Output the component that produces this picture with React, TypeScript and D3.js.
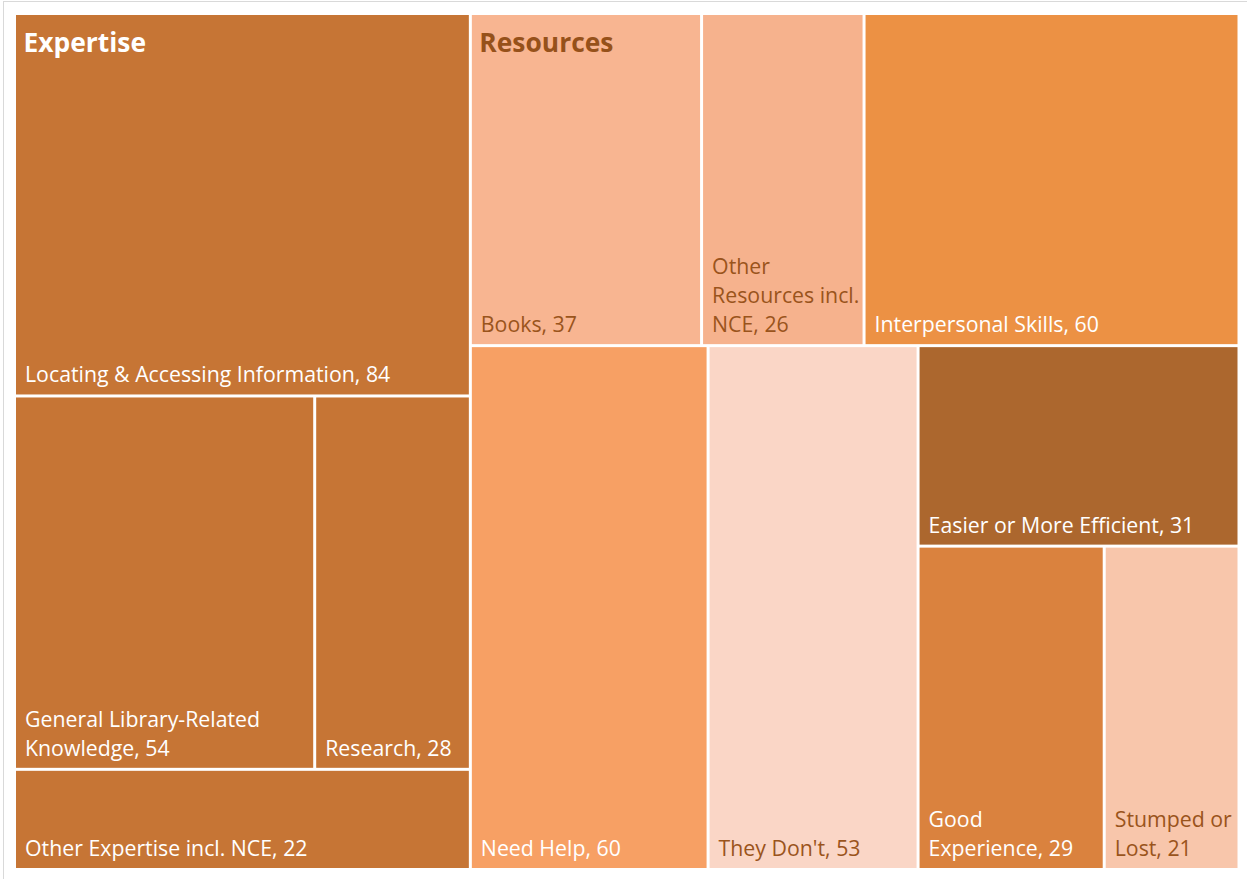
import React, { useMemo } from "react";
import * as d3 from "d3";

// ---- data ----
const expertiseItems = [
  "Locating & Accessing Information",
  "General Library-Related Knowledge",
  "Research",
  "Other Expertise incl. NCE",
];
const expertiseValues = [84, 54, 28, 22];

const resourcesItems = ["Books", "Other Resources incl. NCE"];
const resourcesValues = [37, 26];

const singleItems = [
  "Interpersonal Skills",
  "Need Help",
  "They Don't",
  "Easier or More Efficient",
  "Good Experience",
  "Stumped or Lost",
];
const singleValues = [60, 60, 53, 31, 29, 21];

const leafColors: Record<string, string> = {
  "Locating & Accessing Information": "#C67535",
  "General Library-Related Knowledge": "#C67535",
  Research: "#C67535",
  "Other Expertise incl. NCE": "#C67535",
  Books: "#F8B591",
  "Other Resources incl. NCE": "#F6B28D",
  "Interpersonal Skills": "#EC9144",
  "Need Help": "#F7A064",
  "They Don't": "#FAD6C6",
  "Easier or More Efficient": "#AC672E",
  "Good Experience": "#DA823E",
  "Stumped or Lost": "#F8C6AB",
};
const darkText = "#9A541C";
const lightTextLeaves = new Set([
  "Books",
  "Other Resources incl. NCE",
  "They Don't",
  "Stumped or Lost",
]);

// strip plan (number of items per strip) used by the tiling
const rowPlan: Record<string, number[]> = {
  root: [1, 2, 1, 1, 1, 2],
  Expertise: [1, 2, 1],
  Resources: [1, 1],
};

const W = 1247;
const H = 879;
const GAP = 1.5;
const FONT = "'Open Sans', 'Noto Sans', sans-serif";
const LABEL_SIZE = 21.3;
const HEADER_SIZE = 26.4;
const LINE_H = 29;

function excelTile(parent: any, x0: number, y0: number, x1: number, y1: number) {
  const kids = parent.children;
  const plan = rowPlan[parent.data.name] ?? [kids.length];
  let i = 0;
  let remaining = parent.value;
  for (const count of plan) {
    const row = kids.slice(i, i + count);
    i += count;
    const v = d3.sum(row, (d: any) => d.value);
    if (x1 - x0 > y1 - y0) {
      const w = ((x1 - x0) * v) / remaining;
      let y = y0;
      for (const n of row) {
        const h = ((y1 - y0) * n.value) / v;
        n.x0 = x0; n.x1 = x0 + w; n.y0 = y; n.y1 = y + h;
        y += h;
      }
      x0 += w;
    } else {
      const h = ((y1 - y0) * v) / remaining;
      let x = x0;
      for (const n of row) {
        const w = ((x1 - x0) * n.value) / v;
        n.x0 = x; n.x1 = x + w; n.y0 = y0; n.y1 = y0 + h;
        x += w;
      }
      y0 += h;
    }
    remaining -= v;
  }
}

let ctx: CanvasRenderingContext2D | null = null;
function measure(text: string, size: number) {
  if (!ctx) ctx = document.createElement("canvas").getContext("2d");
  ctx!.font = `${size}px ${FONT}`;
  return ctx!.measureText(text).width;
}

function wrapLabel(name: string, value: number, maxW: number) {
  const words = name.split(" ");
  const tokens = words.slice(0, -1).concat([`${words[words.length - 1]}, ${value}`]);
  const lines: string[] = [];
  let cur = "";
  for (const t of tokens) {
    const test = cur ? cur + " " + t : t;
    if (cur && measure(test, LABEL_SIZE) > maxW) {
      lines.push(cur);
      cur = t;
    } else cur = test;
  }
  if (cur) lines.push(cur);
  return lines;
}

export default function App() {
  const root = useMemo(() => {
    const data = {
      name: "root",
      children: [
        {
          name: "Expertise",
          children: expertiseItems.map((n, i) => ({ name: n, value: expertiseValues[i] })),
        },
        {
          name: "Resources",
          children: resourcesItems.map((n, i) => ({ name: n, value: resourcesValues[i] })),
        },
        ...singleItems.map((n, i) => ({ name: n, value: singleValues[i] })),
      ],
    };
    const h = d3.hierarchy<any>(data).sum((d: any) => d.value ?? 0);
    d3.treemap<any>().tile(excelTile as any).size([1224.5, 856]).round(false)(h);
    return h as d3.HierarchyRectangularNode<any>;
  }, []);

  const ox = 14.5;
  const oy = 13.5;
  const leaves = root.leaves();
  const parents = (root.children ?? []).filter((d) => d.children);

  return (
    <svg
      width={W}
      height={H}
      style={{ position: "absolute", left: 0, top: 0, background: "#fff" }}
      fontFamily={FONT}
    >
      <rect x={3.5} y={1.5} width={1300} height={1000} fill="#fff" stroke="#D9D9D9" />
      <g transform={`translate(${ox},${oy})`}>
        {leaves.map((d) => {
          const x = d.x0 + GAP;
          const y = d.y0 + GAP;
          const w = d.x1 - d.x0 - 2 * GAP;
          const h = d.y1 - d.y0 - 2 * GAP;
          const lines = wrapLabel(d.data.name, d.data.value, w - 10);
          const fill = lightTextLeaves.has(d.data.name) ? darkText : "#FFFFFF";
          const baseY = y + h - 12;
          return (
            <g key={d.data.name}>
              <rect x={x} y={y} width={w} height={h} fill={leafColors[d.data.name]} />
              <text x={x + 9} fontSize={LABEL_SIZE} fill={fill}>
                {lines.map((l, i) => (
                  <tspan key={i} x={x + 9} y={baseY - (lines.length - 1 - i) * LINE_H}>
                    {l}
                  </tspan>
                ))}
              </text>
            </g>
          );
        })}
        {parents.map((d) => (
          <text
            key={d.data.name}
            x={d.x0 + GAP + 7.5}
            y={d.y0 + GAP + 37}
            fontSize={HEADER_SIZE}
            fontWeight="bold"
            fill={d.data.name === "Resources" ? "#96511A" : "#FFFFFF"}
          >
            {d.data.name}
          </text>
        ))}
      </g>
    </svg>
  );
}
